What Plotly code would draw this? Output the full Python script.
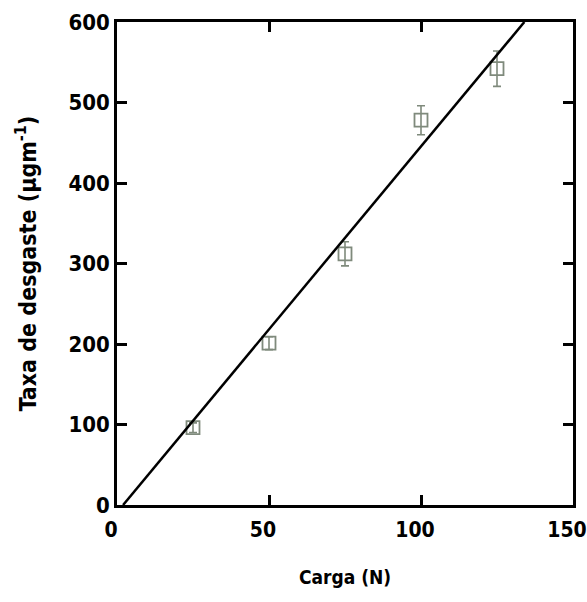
import plotly.graph_objects as go

carga = [25, 50, 75, 100, 125]
taxa = [96, 201, 312, 478, 542]
erro = [6, 8, 15, 18, 22]
fit_x = [2, 134]
fit_y = [0, 600]
x_ticks = [0, 50, 100, 150]
y_ticks = [0, 100, 200, 300, 400, 500, 600]

FONT = "DejaVu Sans Condensed, Liberation Sans Narrow, Arial Narrow, Liberation Sans, sans-serif"

fig = go.Figure()
fig.add_trace(go.Scatter(
    x=carga, y=taxa, mode="markers",
    marker=dict(symbol="square-open", size=13, color="#7f8a7c", line=dict(width=1.8)),
    error_y=dict(type="data", array=erro, color="#7f8a7c", thickness=1.6, width=4),
    showlegend=False))
fig.add_trace(go.Scatter(
    x=fit_x, y=fit_y, mode="lines",
    line=dict(color="black", width=2.5), showlegend=False))

axis_common = dict(showgrid=False, zeroline=False, showline=True, linecolor="black",
                   linewidth=2.5, mirror="ticks", ticks="inside", ticklen=10,
                   tickwidth=2.5, tickcolor="black", automargin=False)

tickfont = dict(family=FONT, size=22, color="black", weight="bold")

fig.update_layout(
    width=587, height=602,
    margin=dict(l=117, r=14, t=22, b=97),
    paper_bgcolor="white", plot_bgcolor="white",
    xaxis=dict(range=[0, 150], tickvals=x_ticks,
               ticklabeloverflow="allow", ticklabelstandoff=4, ticklabelshift=-6,
               tickfont=dict(tickfont, size=21),
               title=dict(text="Carga (N)", font=dict(family=FONT, size=19, color="black", weight="bold"), standoff=30),
               **axis_common),
    yaxis=dict(range=[0, 600], tickvals=y_ticks, tickfont=tickfont,
               title=dict(text="Taxa de desgaste (μgm<sup>-1</sup>)", font=dict(family=FONT, size=23, color="black", weight="bold"), standoff=26),
               **axis_common),
)
fig.write_html("out.html")
